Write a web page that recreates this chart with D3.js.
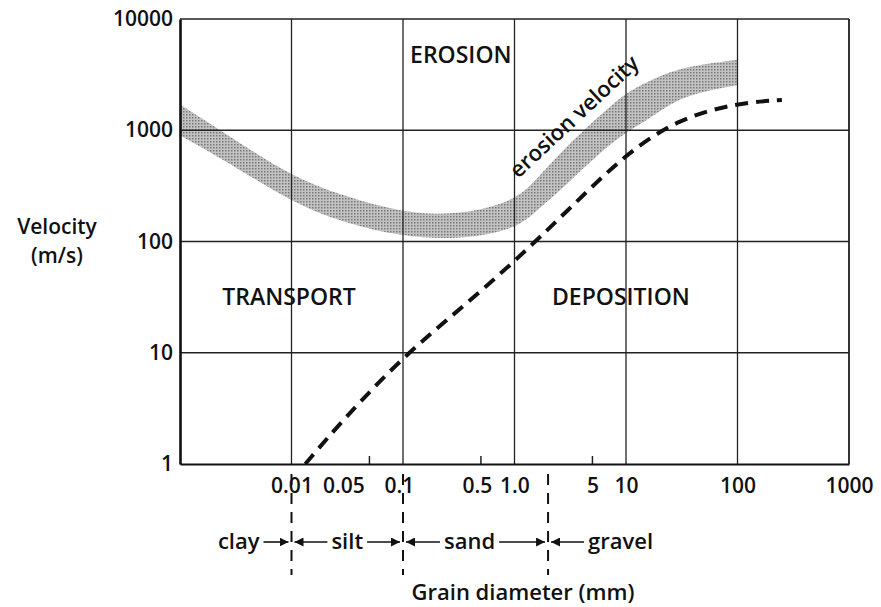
<!DOCTYPE html>
<html>
<head>
<meta charset="utf-8">
<script src="https://cdn.jsdelivr.net/npm/d3@7"></script>
<style>
  body { margin: 0; background: #fff; }
  svg text { font-family: "Open Sans", "Noto Sans", sans-serif; fill: #111; font-weight: 600; }
</style>
</head>
<body>
<div id="chart"></div>
<script>
// grain diameter (mm) and velocity bounds of the erosion band
var bandDiameter = [0.001, 0.0025, 0.01, 0.03, 0.1, 0.33, 1, 1.5, 2.6, 5.9, 10, 17, 31, 100];
var bandUpper    = [1700, 950, 380, 255, 180, 172, 232, 340, 640, 1370, 2200, 2850, 3700, 4300];
var bandLower    = [900, 540, 225, 146, 110, 104, 128, 180, 290, 640, 960, 1300, 2050, 2550];

// deposition (settling) velocity, dashed curve
var depDiameter = [0.0133, 0.03, 0.1, 0.33, 1, 3, 10, 30, 100, 250];
var depVelocity = [1, 2.6, 9.2, 25, 66, 190, 620, 1280, 1760, 1870];

var xTicks = [0.01, 0.05, 0.1, 0.5, 1, 5, 10, 100, 1000];
var xTickLabels = ["0.01", "0.05", "0.1", "0.5", "1.0", "5", "10", "100", "1000"];
var yTicks = [1, 10, 100, 1000, 10000];
var xGrid = [0.01, 0.1, 1, 10, 100, 1000];
var minorTicks = [0.05, 0.5, 5];

var classes = ["clay", "silt", "sand", "gravel"];
var classBounds = [0.01, 0.1, 2];

var regions = ["EROSION", "TRANSPORT", "DEPOSITION"];
var regionAt = [[0.33, 4000], [0.0095, 27], [9, 27]];

(function() {
    var width = 881, height = 607;
    var svg = d3.select("#chart").append("svg")
        .attr("width", width).attr("height", height);

    var x = d3.scaleLog().domain([0.001, 1000]).range([180, 849]);
    var y = d3.scaleLog().domain([1, 10000]).range([464, 19]);

    // stipple for the band
    var pat = svg.append("defs").append("pattern")
        .attr("id", "stip").attr("patternUnits", "userSpaceOnUse")
        .attr("width", 3).attr("height", 3);
    pat.append("rect").attr("width", 3).attr("height", 3).attr("fill", "#c2c2c2");
    pat.append("rect").attr("width", 1.5).attr("height", 1.5).attr("fill", "#7a7a7a");

    svg.select("defs").append("marker")
        .attr("id", "arr").attr("viewBox", "0 0 10 10")
        .attr("refX", 10).attr("refY", 5)
        .attr("markerWidth", 9).attr("markerHeight", 9)
        .attr("markerUnits", "userSpaceOnUse")
        .attr("orient", "auto-start-reverse")
      .append("path").attr("d", "M0,0L10,5L0,10z").attr("fill", "#111");

    var x0 = x.range()[0], x1 = x.range()[1], y0 = y.range()[0], y1 = y.range()[1];

    // erosion band
    var band = bandDiameter.map(function(d, i) { return [d, bandLower[i], bandUpper[i]]; });
    svg.append("path").datum(band)
        .attr("fill", "url(#stip)")
        .attr("d", d3.area()
            .x(function(d) { return x(d[0]); })
            .y0(function(d) { return y(d[1]); })
            .y1(function(d) { return y(d[2]); })
            .curve(d3.curveBasis));

    // grid
    svg.append("g").selectAll("line").data(yTicks.slice(1)).join("line")
        .attr("x1", x0).attr("x2", x1)
        .attr("y1", function(d) { return y(d); }).attr("y2", function(d) { return y(d); })
        .attr("stroke", "#222").attr("stroke-width", 1.3);
    svg.append("g").selectAll("line").data(xGrid).join("line")
        .attr("x1", function(d) { return x(d); }).attr("x2", function(d) { return x(d); })
        .attr("y1", y1).attr("y2", y0)
        .attr("stroke", "#222").attr("stroke-width", 1.3);
    svg.append("g").selectAll("line").data(minorTicks).join("line")
        .attr("x1", function(d) { return x(d); }).attr("x2", function(d) { return x(d); })
        .attr("y1", y0 - 8).attr("y2", y0)
        .attr("stroke", "#222").attr("stroke-width", 1.5);

    // deposition curve
    var dep = depDiameter.map(function(d, i) { return [d, depVelocity[i]]; });
    svg.append("path").datum(dep)
        .attr("fill", "none").attr("stroke", "#111")
        .attr("stroke-width", 4).attr("stroke-dasharray", "13,8")
        .attr("d", d3.line()
            .x(function(d) { return x(d[0]); })
            .y(function(d) { return y(d[1]); })
            .curve(d3.curveBasis));

    // axes
    var ax = svg.append("g").attr("transform", "translate(0," + y0 + ")")
        .call(d3.axisBottom(x).tickValues(xTicks).tickSize(0).tickPadding(14)
            .tickFormat(function(d, i) { return xTickLabels[i]; }));
    ax.select(".domain").attr("stroke", "#111").attr("stroke-width", 2.2);
    var nudge = {"0.05": -26, "0.1": -4, "0.5": -4};
    ax.selectAll("text")
        .attr("font-size", 21).attr("fill", "#111").attr("font-family", null)
        .attr("dx", function(d) { return nudge[d] || 0; });

    var ay = svg.append("g").attr("transform", "translate(" + x0 + ",0)")
        .call(d3.axisLeft(y).tickValues(yTicks).tickSize(0).tickPadding(7)
            .tickFormat(d3.format("d")));
    ay.select(".domain").attr("stroke", "#111").attr("stroke-width", 2.6);
    ay.selectAll("text").attr("font-size", 21).attr("fill", "#111").attr("font-family", null);

    svg.append("line").attr("x1", x1).attr("x2", x1).attr("y1", y1).attr("y2", y0)
        .attr("stroke", "#222").attr("stroke-width", 1.5);

    // region labels
    svg.append("g").selectAll("text").data(regions).join("text")
        .attr("x", function(d, i) { return x(regionAt[i][0]); })
        .attr("y", function(d, i) { return y(regionAt[i][1]); })
        .attr("text-anchor", "middle").attr("font-size", 23)
        .text(function(d) { return d; });

    svg.append("text")
        .attr("transform", "translate(" + x(1.08) + "," + y(365) + ") rotate(-43)")
        .attr("font-size", 22).text("erosion velocity");

    svg.append("text").attr("x", 57).attr("y", 234).attr("text-anchor", "middle")
        .attr("font-size", 21).text("Velocity");
    svg.append("text").attr("x", 57).attr("y", 263).attr("text-anchor", "middle")
        .attr("font-size", 21).text("(m/s)");

    // size class boundaries below the axis
    svg.append("g").selectAll("line").data(classBounds).join("line")
        .attr("x1", function(d) { return x(d); }).attr("x2", function(d) { return x(d); })
        .attr("y1", y0 + 10).attr("y2", 575)
        .attr("stroke", "#111").attr("stroke-width", 2).attr("stroke-dasharray", "11,8");

    var rowY = 549;
    var cg = svg.append("g");
    classes.forEach(function(name, i) {
        var left = i > 0 ? x(classBounds[i - 1]) : null;
        var right = i < classBounds.length ? x(classBounds[i]) : null;
        var t = cg.append("text").attr("y", rowY).attr("font-size", 22).text(name);
        var w = t.node().getComputedTextLength();
        var cx;
        if (left === null) cx = right - 32 - w / 2;
        else if (right === null) cx = left + 40 + w / 2;
        else cx = (left + right) / 2 - (i === 2 ? 6 : 0);
        t.attr("x", cx).attr("text-anchor", "middle");
        if (left !== null) {
            cg.append("line").attr("x1", cx - w / 2 - 4).attr("x2", left + 3)
                .attr("y1", rowY - 7).attr("y2", rowY - 7)
                .attr("stroke", "#111").attr("stroke-width", 1.6)
                .attr("marker-end", "url(#arr)");
        }
        if (right !== null) {
            cg.append("line").attr("x1", cx + w / 2 + 4).attr("x2", right - 3)
                .attr("y1", rowY - 7).attr("y2", rowY - 7)
                .attr("stroke", "#111").attr("stroke-width", 1.6)
                .attr("marker-end", "url(#arr)");
        }
    });

    svg.append("text").attr("x", 523).attr("y", 600).attr("text-anchor", "middle")
        .attr("font-size", 22).text("Grain diameter (mm)");
})();
</script>
</body>
</html>
